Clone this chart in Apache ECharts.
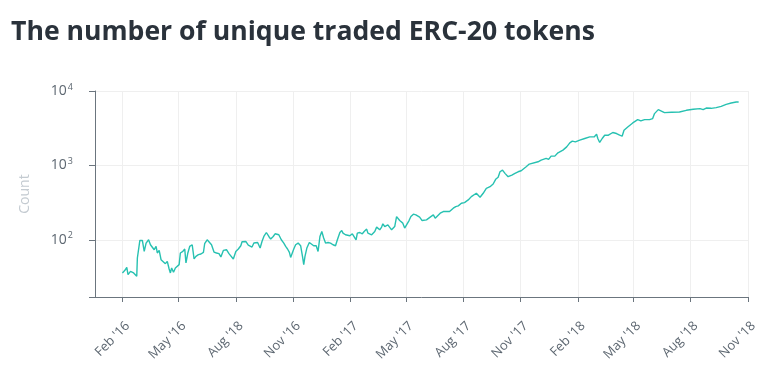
<!DOCTYPE html>
<html>
<head>
<meta charset="utf-8">
<script src="https://cdn.jsdelivr.net/npm/echarts@6/dist/echarts.min.js"></script>
<style>
html,body{margin:0;padding:0;background:#fff;}
#chart{width:766px;height:378px;}
</style>
</head>
<body>
<div id="chart"></div>
<script>
var titleText = 'The number of unique traded ERC-20 tokens';
var yAxisName = 'Count';

var tickDates = ['2016-02-01','2016-05-01','2016-08-01','2016-11-01','2017-02-01','2017-05-01','2017-08-01','2017-11-01','2018-02-01','2018-05-01','2018-08-01','2018-11-01'];
var tickLabels = ["Feb '16","May '16","Aug '18","Nov '16","Feb '17","May '17","Aug '17","Nov '17","Feb '18","May '18","Aug '18","Nov '18"];

var dates = ['2016-02-01','2016-02-05','2016-02-08','2016-02-10','2016-02-14','2016-02-19','2016-02-22','2016-02-24','2016-02-25','2016-02-29',
'2016-03-04','2016-03-07','2016-03-10','2016-03-14','2016-03-17','2016-03-20','2016-03-23','2016-03-26','2016-03-28','2016-03-31',
'2016-04-03','2016-04-06','2016-04-10','2016-04-13','2016-04-16','2016-04-18','2016-04-20','2016-04-23','2016-04-26','2016-04-29',
'2016-05-02','2016-05-04','2016-05-08','2016-05-11','2016-05-13','2016-05-16','2016-05-19','2016-05-23','2016-05-26','2016-05-29',
'2016-06-02','2016-06-06','2016-06-10','2016-06-12','2016-06-16','2016-06-19','2016-06-23','2016-06-27','2016-07-01','2016-07-05',
'2016-07-08','2016-07-12','2016-07-14','2016-07-17','2016-07-21','2016-07-24','2016-07-28','2016-08-01','2016-08-05','2016-08-09',
'2016-08-11','2016-08-14','2016-08-17','2016-08-21','2016-08-24','2016-08-27','2016-08-30','2016-09-02','2016-09-05','2016-09-09',
'2016-09-12','2016-09-15','2016-09-19','2016-09-23','2016-09-26','2016-09-30','2016-10-03','2016-10-06','2016-10-09','2016-10-13',
'2016-10-17','2016-10-20','2016-10-23','2016-10-26','2016-10-28','2016-10-31','2016-11-02','2016-11-05','2016-11-09','2016-11-13',
'2016-11-16','2016-11-18','2016-11-20','2016-11-23','2016-11-27','2016-11-30','2016-12-04','2016-12-08','2016-12-11','2016-12-14',
'2016-12-17','2016-12-20','2016-12-23','2016-12-27','2016-12-31',
'2017-01-04','2017-01-08','2017-01-11','2017-01-15','2017-01-18','2017-01-20','2017-01-24','2017-01-27','2017-01-31','2017-02-04',
'2017-02-07','2017-02-10','2017-02-12','2017-02-16','2017-02-20','2017-02-23','2017-02-27','2017-03-01','2017-03-04','2017-03-07',
'2017-03-09','2017-03-12','2017-03-15','2017-03-17','2017-03-20','2017-03-23','2017-03-25','2017-03-28','2017-03-31','2017-04-02',
'2017-04-05','2017-04-08','2017-04-10','2017-04-13','2017-04-16','2017-04-18','2017-04-21','2017-04-24','2017-04-26','2017-04-29',
'2017-05-02','2017-05-06','2017-05-09','2017-05-13','2017-05-17','2017-05-20','2017-05-23','2017-05-27','2017-05-30','2017-06-03',
'2017-06-06','2017-06-10','2017-06-14','2017-06-17','2017-06-19','2017-06-25','2017-06-30','2017-07-05','2017-07-08','2017-07-10',
'2017-07-16','2017-07-20','2017-07-24','2017-07-29','2017-08-03','2017-08-09','2017-08-14','2017-08-17','2017-08-22','2017-08-28',
'2017-09-02','2017-09-07','2017-09-13','2017-09-18','2017-09-22','2017-09-26','2017-09-29','2017-10-03','2017-10-07','2017-10-12',
'2017-10-18','2017-10-23','2017-10-28','2017-11-02','2017-11-10','2017-11-15','2017-11-18','2017-11-29','2017-12-04','2017-12-12',
'2017-12-16','2017-12-20','2017-12-26','2017-12-31',
'2018-01-08','2018-01-14','2018-01-19','2018-01-23','2018-01-28','2018-02-04','2018-02-12','2018-02-20','2018-02-27','2018-03-03',
'2018-03-05','2018-03-08','2018-03-12','2018-03-16','2018-03-22','2018-03-29','2018-04-04','2018-04-09','2018-04-13','2018-04-16',
'2018-04-22','2018-04-30','2018-05-08','2018-05-13','2018-05-19','2018-05-27','2018-06-01','2018-06-04','2018-06-10','2018-06-15',
'2018-06-20','2018-07-01','2018-07-14','2018-07-25','2018-08-05','2018-08-16','2018-08-21','2018-08-26','2018-09-03','2018-09-11',
'2018-09-19','2018-09-27','2018-10-05','2018-10-13','2018-10-17'];

var counts = [35.8,38.8,42.6,34.0,37.6,35.8,36.5,32.3,56.9,97.9,
97.9,69.7,90.3,100,85.7,88.4,73.5,81.3,66.4,71.9,
54.0,55.2,47.7,51.2,40.5,35.8,41.8,36.5,41.8,39.7,
46.3,66.4,69.7,75.1,48.8,66.4,81.3,85.7,55.2,59.8,
63.0,64.4,67.6,88.4,100,94.9,85.7,68.4,66.4,65.0,
58.7,71.9,69.7,73.5,65.0,66.4,55.2,69.7,75.1,83.1,
94.0,88.4,94.9,84.9,88.4,79.9,90.3,85.7,92.0,77.4,
94.9,110.7,125.2,110.7,102.2,110.7,120.3,125.2,116.7,100,
90.3,81.3,75.1,67.6,57.9,59.8,75.1,85.7,90.3,83.1,
59.8,46.3,59.8,77.4,92.0,90.3,83.1,83.1,69.7,110.7,
129.2,105.4,90.3,92.0,90.3,
85.7,83.1,100,125.2,133.2,122.9,116.7,120.3,113.1,120.3,
113.1,100,122.9,125.2,120.3,129.2,139.1,122.9,122.9,116.7,
110.7,129.2,147.9,139.1,136.1,147.9,163.7,150.7,143.4,158.8,
150.7,136.1,129.2,150.7,205.0,216.1,181.3,175.8,167.3,143.4,
150.7,181.3,205.0,220.8,216.1,209.5,201.3,181.3,175.8,185.3,
189.3,205.0,216.1,195.2,189.3,227.8,239.3,239.3,252.1,239.3,
265.7,279.2,285.3,310.0,315.7,343.1,380.0,388.2,421.9,373.0,
421.9,492.0,517.0,561.9,649.7,690.9,820.9,865.0,781.3,703.7,
741.7,781.3,820.9,846.5,957.9,1040.9,1083.4,1117.4,1177.6,1241,
1203,1332,1332,1475,
1603,1774,2007,2115,2070,2181,2298,2415,2415,2624,
2298,2032,2298,2544,2544,2766,2682,2544,2467,2969,
3286,3719,4128,3955,4128,4128,4258,4967,5619,5381,
5123,5170,5218,5500,5672,5796,5619,5904,5850,5977,
6221,6616,6887,7103,7103];

var xMin = '2015-12-19';
var xMax = '2018-11-01';
var yMin = 17;
var yMax = 10000;

function toTime(d) { return Date.parse(d + 'T00:00:00Z'); }
var tickTimes = tickDates.map(toTime);
var seriesData = dates.map(function (d, i) { return [toTime(d), counts[i]]; });

var axisColor = '#6b757e';
var labelColor = '#5d6771';
var gridColor = '#efefef';
var font = "'Open Sans', sans-serif";

var chart = echarts.init(document.getElementById('chart'), null, {renderer: 'canvas'});
chart.setOption({
  animation: false,
  backgroundColor: '#ffffff',
  title: {
    text: titleText,
    left: 6,
    top: 14,
    textStyle: {fontFamily: font, fontWeight: 'bold', fontSize: 26.6, color: '#2a323b'}
  },
  grid: {left: 95, right: 18, top: 91, bottom: 81, containLabel: false},
  xAxis: {
    type: 'value',
    min: toTime(xMin),
    max: toTime(xMax),
    axisLine: {show: true, lineStyle: {color: axisColor, width: 1}},
    axisTick: {show: true, length: 5, lineStyle: {color: axisColor}, customValues: tickTimes},
    axisLabel: {
      customValues: tickTimes,
      rotate: 45,
      margin: 23,
      verticalAlign: 'top',
      padding: [0, -1, 0, 0],
      color: labelColor,
      fontFamily: font,
      fontSize: 13,
      formatter: function (v) {
        var i = tickTimes.indexOf(v);
        return i >= 0 ? tickLabels[i] : '';
      }
    },
    splitLine: {show: true, lineStyle: {color: gridColor, width: 1}}
  },
  yAxis: {
    type: 'log',
    logBase: 10,
    min: yMin,
    max: yMax,
    name: yAxisName,
    nameLocation: 'middle',
    nameGap: 63,
    nameTextStyle: {color: '#c4cbd1', fontFamily: font, fontSize: 14},
    axisLine: {show: true, lineStyle: {color: axisColor, width: 1}},
    axisTick: {show: true, length: 6, lineStyle: {color: axisColor}},
    axisLabel: {
      margin: 22,
      color: labelColor,
      fontFamily: font,
      formatter: function (v) {
        var e = Math.log10(v);
        if (Math.abs(e - Math.round(e)) > 1e-6) return '';
        return '{b|10}{s|' + Math.round(e) + '}';
      },
      rich: {
        b: {fontSize: 14, color: labelColor, fontFamily: font, lineHeight: 17},
        s: {fontSize: 9, color: labelColor, fontFamily: font, lineHeight: 17, verticalAlign: 'top', padding: [0, 0, 0, 1]}
      }
    },
    splitLine: {show: true, lineStyle: {color: gridColor, width: 1}}
  },
  series: [{
    type: 'line',
    data: seriesData,
    showSymbol: false,
    symbol: 'none',
    lineStyle: {color: '#27c1b1', width: 1.4},
    itemStyle: {color: '#27c1b1'}
  }]
});
</script>
</body>
</html>
